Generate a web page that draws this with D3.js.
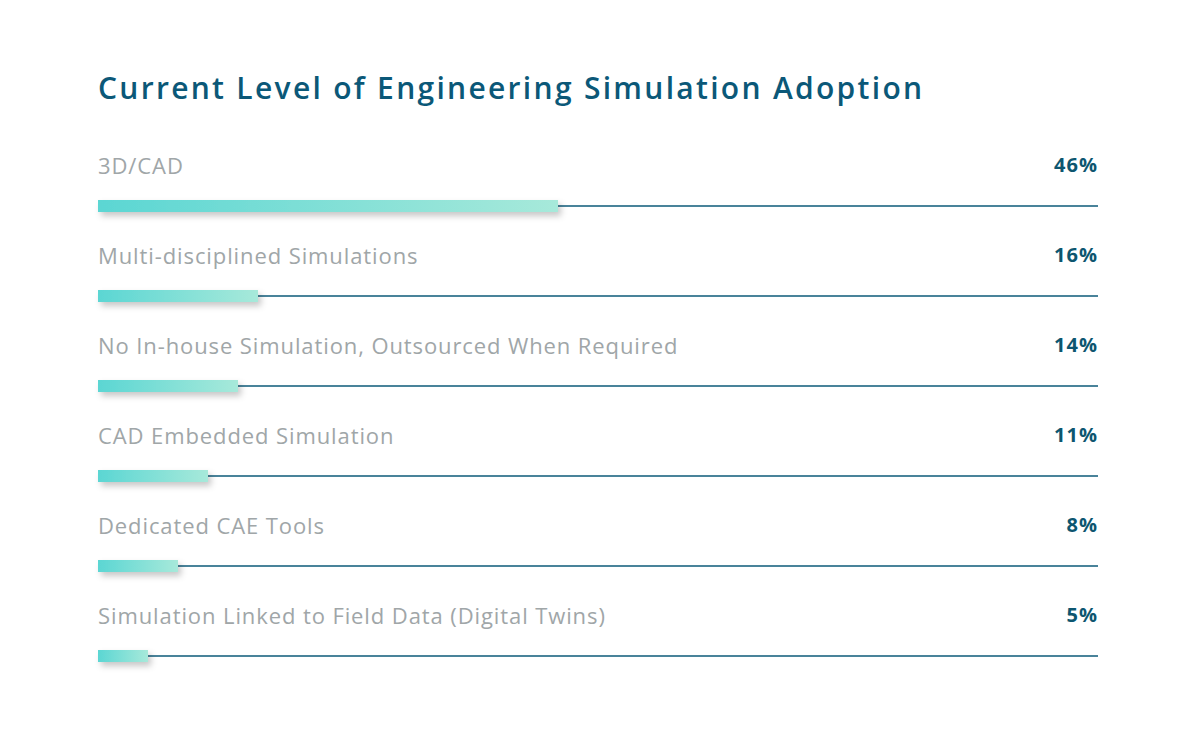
<!DOCTYPE html>
<html>
<head>
<meta charset="utf-8">
<script src="https://cdn.jsdelivr.net/npm/d3@7"></script>
<style>
  body { margin: 0; background: #fff; }
  text { font-family: "Open Sans", Lato, sans-serif; }
</style>
</head>
<body>
<div id="chart"></div>
<script>
var svgWidth = 1200;
var svgHeight = 740;

// data
var categories = [
  "3D/CAD",
  "Multi-disciplined Simulations",
  "No In-house Simulation, Outsourced When Required",
  "CAD Embedded Simulation",
  "Dedicated CAE Tools",
  "Simulation Linked to Field Data (Digital Twins)"
];
var values = [46, 16, 14, 11, 8, 5];

var left = 98, right = 1098;
var firstLine = 206, rowStep = 90;

var svg = d3.select("#chart")
  .append("svg")
  .attr("width", svgWidth)
  .attr("height", svgHeight);

var defs = svg.append("defs");
var grad = defs.append("linearGradient")
  .attr("id", "barGrad")
  .attr("x1", "0%").attr("x2", "100%")
  .attr("y1", "0%").attr("y2", "0%");
grad.append("stop").attr("offset", "0%").attr("stop-color", "#5bd6d3");
grad.append("stop").attr("offset", "100%").attr("stop-color", "#a7e9da");

var shadow = defs.append("filter")
  .attr("id", "shadow")
  .attr("x", "-10%").attr("y", "-100%")
  .attr("width", "130%").attr("height", "400%");
shadow.append("feDropShadow")
  .attr("dx", 3).attr("dy", 4)
  .attr("stdDeviation", 3)
  .attr("flood-color", "#000")
  .attr("flood-opacity", 0.22);

// title
svg.append("text")
  .attr("x", left)
  .attr("y", 99)
  .attr("fill", "#0b5878")
  .attr("font-size", "30px")
  .attr("font-weight", 600)
  .attr("letter-spacing", "2.3px")
  .text("Current Level of Engineering Simulation Adoption");

var x = d3.scaleLinear().domain([0, 100]).range([left, right]);
var y = d3.scaleBand()
  .domain(categories)
  .range([firstLine - rowStep / 2, firstLine - rowStep / 2 + rowStep * categories.length]);

var rows = svg.selectAll("g.row")
  .data(categories)
  .enter()
  .append("g")
  .attr("class", "row")
  .attr("transform", d => `translate(0, ${y(d) + rowStep / 2})`);

// baseline
rows.append("line")
  .attr("x1", x(0))
  .attr("x2", x(100))
  .attr("y1", 0)
  .attr("y2", 0)
  .attr("stroke", "#0d5a78")
  .attr("stroke-width", 1.5);

// bars
rows.append("rect")
  .attr("x", x(0))
  .attr("y", -6)
  .attr("width", (d, i) => x(values[i]) - x(0))
  .attr("height", 12)
  .attr("fill", "url(#barGrad)")
  .attr("filter", "url(#shadow)");

// labels
rows.append("text")
  .attr("x", left)
  .attr("y", -32)
  .attr("fill", "#a0a6a8")
  .attr("font-size", "22px")
  .attr("font-weight", 500)
  .attr("letter-spacing", "0.9px")
  .text(d => d);

// values
rows.append("text")
  .attr("x", right)
  .attr("y", -34)
  .attr("text-anchor", "end")
  .attr("fill", "#0d5670")
  .attr("font-size", "20px")
  .attr("font-weight", 700)
  .attr("letter-spacing", "1px")
  .text((d, i) => values[i] + "%");
</script>
</body>
</html>
